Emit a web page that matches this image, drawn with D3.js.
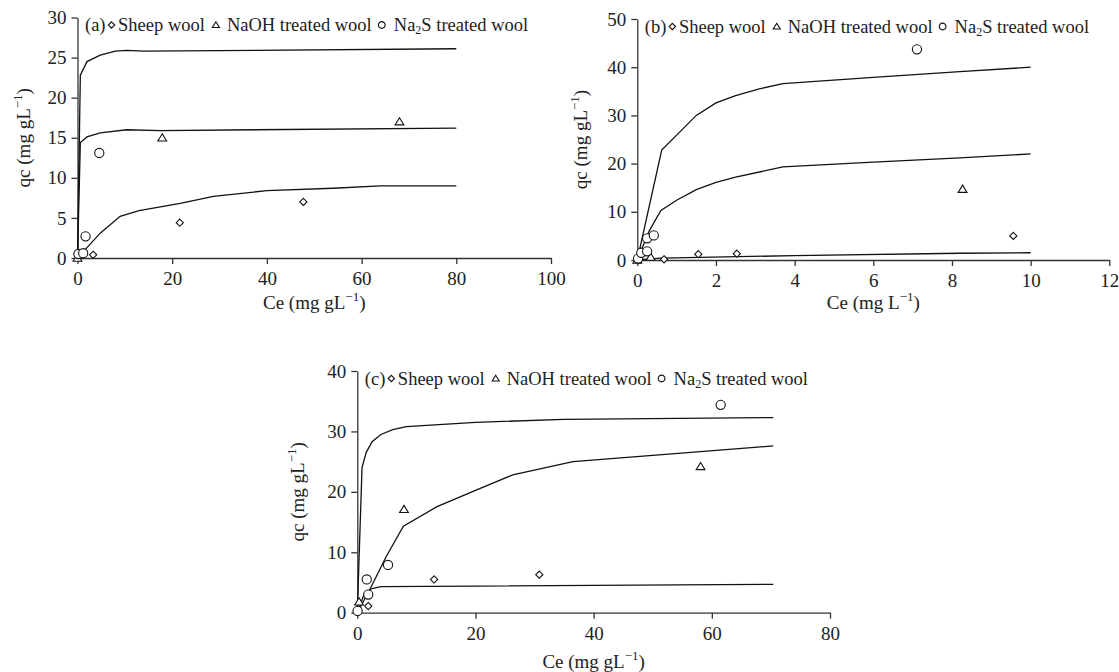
<!DOCTYPE html>
<html>
<head>
<meta charset="utf-8">
<script src="https://cdn.jsdelivr.net/npm/d3@7"></script>
<style>
body { margin: 0; background: #fff; }
svg text { font-family: "Liberation Serif", "Times New Roman", serif; fill: #222; }
.axis path, .axis line { stroke: #333; stroke-width: 1.3; }
.axis text { font-size: 19px; }
.fit { fill: none; stroke: #111; stroke-width: 1.3; }
.pt { fill: #fff; stroke: #111; stroke-width: 1.1; }
.lab { font-size: 19px; }
.leg { font-size: 18.5px; }
</style>
</head>
<body>
<svg id="chart" width="1119" height="672"></svg>
<script>
// ---- panel (a) ----
var sheepA = [[3.3, 0.4], [21.6, 4.4], [47.7, 7.0]];
var naohA = [[0, 0], [17.9, 15.0], [68.0, 17.0]];
var na2sA = [[0.2, 0.5], [1.2, 0.6], [1.7, 2.7], [4.6, 13.1]];
var sheepFitA = [[0, 0], [2, 1.3], [4.8, 3.1], [9, 5.2], [13, 5.9], [21.7, 6.8], [28.7, 7.7], [40, 8.4], [54, 8.7], [64, 9.0], [80, 9.0]];
var naohFitA = [[0, 0], [0.6, 14.4], [2, 15.1], [4.8, 15.6], [10.4, 16.0], [17.5, 15.9], [80, 16.2]];
var na2sFitA = [[0, 0], [0.6, 22.8], [2, 24.5], [4.8, 25.3], [8, 25.8], [10.4, 25.9], [14, 25.8], [80, 26.1]];

// ---- panel (b) ----
var sheepB = [[0.68, 0.15], [1.55, 1.2], [2.53, 1.3], [9.56, 5.0]];
var naohB = [[0.0, 0.0], [0.34, 0.6], [8.27, 14.7]];
var na2sB = [[0.02, 0.3], [0.1, 1.5], [0.25, 1.8], [0.25, 4.5], [0.42, 5.1], [7.11, 43.7]];
var sheepFitB = [[0, 0], [0.6, 0.4], [4, 0.9], [8.2, 1.4], [10, 1.5]];
var naohFitB = [[0, 0], [0.3, 6.0], [0.6, 10.3], [1.0, 12.4], [1.5, 14.6], [2.0, 16.1], [2.5, 17.2], [3.7, 19.3], [6.0, 20.3], [8.2, 21.2], [10, 22.0]];
var na2sFitB = [[0, 0], [0.62, 22.8], [1.0, 25.9], [1.5, 30.0], [2.0, 32.6], [2.5, 34.1], [3.1, 35.5], [3.7, 36.6], [6.0, 37.9], [8.2, 39.1], [10, 40.0]];

// ---- panel (c) ----
var sheepC = [[1.85, 1.1], [13.0, 5.5], [30.8, 6.3]];
var naohC = [[0.3, 1.8], [7.9, 17.1], [58.1, 24.2]];
var na2sC = [[0.05, 0.3], [1.6, 5.5], [1.85, 3.0], [5.2, 7.9], [61.5, 34.4]];
var sheepFitC = [[0, 0], [1.2, 3.2], [2.5, 4.0], [4, 4.3], [20, 4.4], [70.4, 4.7]];
var naohFitC = [[0, 0], [2.1, 3.8], [4.9, 9.3], [7.8, 14.3], [13.4, 17.5], [20.1, 20.3], [26.3, 22.8], [36.5, 25.0], [70.4, 27.6]];
var na2sFitC = [[0, 0], [0.8, 24.0], [1.5, 26.5], [2.5, 28.3], [4, 29.5], [6, 30.3], [8.3, 30.8], [20, 31.5], [35, 32.0], [70.4, 32.3]];

var ticksXA = [0, 20, 40, 60, 80, 100], ticksYA = [0, 5, 10, 15, 20, 25, 30];
var ticksXB = [0, 2, 4, 6, 8, 10, 12], ticksYB = [0, 10, 20, 30, 40, 50];
var ticksXC = [0, 20, 40, 60, 80], ticksYC = [0, 10, 20, 30, 40];

var panels = [
    { tag: "(a)", xDom: [0, 100], yDom: [0, 30], xt: ticksXA, yt: ticksYA, xUnit: "mg gL",
      sheep: sheepA, naoh: naohA, na2s: na2sA, fits: [sheepFitA, naohFitA, na2sFitA],
      left: 77.5, right: 551, top: 17.5, bottom: 258, yLabX: 23, xLabY: 309 },
    { tag: "(b) ", xDom: [0, 12], yDom: [0, 50], xt: ticksXB, yt: ticksYB, xUnit: "mg L",
      sheep: sheepB, naoh: naohB, na2s: na2sB, fits: [sheepFitB, naohFitB, na2sFitB],
      left: 637.3, right: 1109.3, top: 19, bottom: 260, yLabX: 580, xLabY: 309 },
    { tag: "(c)", xDom: [0, 80], yDom: [0, 40], xt: ticksXC, yt: ticksYC, xUnit: "mg gL",
      sheep: sheepC, naoh: naohC, na2s: na2sC, fits: [sheepFitC, naohFitC, na2sFitC],
      left: 357.3, right: 830, top: 371, bottom: 612.7, yLabX: 297, xLabY: 668 }
];

var svg = d3.select("#chart");

function shapePath(kind, r) {
    if (kind == "diamond") return "M0," + (-r) + "L" + r + ",0L0," + r + "L" + (-r) + ",0Z";
    if (kind == "triangle") return "M0," + (-r) + "L" + (r * 1.1) + "," + (r * 0.8) + "L" + (-r * 1.1) + "," + (r * 0.8) + "Z";
    return d3.symbol(d3.symbolCircle, Math.PI * r * r)();
}

function addUnitLabel(sel, prefix, unit) {
    sel.append("tspan").text(prefix + " (" + unit);
    sel.append("tspan").attr("dy", -8).attr("font-size", "13px").text("\u22121");
    sel.append("tspan").attr("dy", 8).text(")");
}

function drawPanel(p) {
    var x = d3.scaleLinear().domain(p.xDom).range([p.left, p.right]);
    var y = d3.scaleLinear().domain(p.yDom).range([p.bottom, p.top]);
    var g = svg.append("g");

    g.append("g").attr("class", "axis")
        .attr("transform", "translate(0," + p.bottom + ")")
        .call(d3.axisBottom(x).tickValues(p.xt).tickSize(6).tickSizeOuter(0).tickPadding(8))
        .attr("font-family", null).attr("font-size", null);
    g.append("g").attr("class", "axis")
        .attr("transform", "translate(" + p.left + ",0)")
        .call(d3.axisLeft(y).tickValues(p.yt).tickSize(6).tickSizeOuter(0).tickPadding(5))
        .attr("font-family", null).attr("font-size", null);
    g.selectAll(".axis text").attr("fill", "#222");

    var line = d3.line().x(function(d) { return x(d[0]); }).y(function(d) { return y(d[1]); });
    g.selectAll("path.fit").data(p.fits).enter()
        .append("path").attr("class", "fit").attr("d", line);

    var sets = [["diamond", p.sheep, 3.6], ["triangle", p.naoh, 4], ["circle", p.na2s, 4.6]];
    sets.forEach(function(s) {
        g.append("g").selectAll("path").data(s[1]).enter()
            .append("path").attr("class", "pt")
            .attr("d", shapePath(s[0], s[2]))
            .attr("transform", function(d) { return "translate(" + x(d[0]) + "," + y(d[1]) + ")"; });
    });

    // axis titles
    var xl = g.append("text").attr("class", "lab").attr("text-anchor", "middle")
        .attr("x", (p.left + p.right) / 2).attr("y", p.xLabY);
    addUnitLabel(xl, "Ce", p.xUnit);
    var yl = g.append("text").attr("class", "lab").attr("text-anchor", "middle")
        .attr("transform", "translate(" + p.yLabX + "," + (p.top + p.bottom) / 2 + ") rotate(-90)")
        .attr("dy", "0.35em");
    addUnitLabel(yl, "qc", "mg gL");

    drawLegend(g, p.tag, p.left + 7.5, p.top + 13.5);
}

function drawLegend(g, tag, x0, base) {
    var cx = x0;
    // gap before symbol centre, gap from centre to next text
    var parts = [
        { t: tag }, { s: "diamond", pre: 6, post: 6.5 }, { t: "Sheep wool" }, { s: "triangle", pre: 11, post: 11 },
        { t: "NaOH treated wool" }, { s: "circle", pre: 10, post: 12 }, { t: "Na2S" }
    ];
    parts.forEach(function(part) {
        if (part.s) {
            cx += part.pre;
            g.append("path").attr("class", "pt")
                .attr("d", shapePath(part.s, part.s == "circle" ? 3.4 : 3.2))
                .attr("transform", "translate(" + cx + "," + (base - 6) + ")");
            cx += part.post;
            return;
        }
        var t = g.append("text").attr("class", "leg").attr("x", cx).attr("y", base);
        if (part.t == "Na2S") {
            t.append("tspan").text("Na");
            t.append("tspan").attr("dy", 3).attr("font-size", "12px").text("2");
            t.append("tspan").attr("dy", -3).text("S treated wool");
        } else {
            t.text(part.t);
        }
        cx += t.node().getComputedTextLength();
    });
}

panels.forEach(drawPanel);
</script>
</body>
</html>
